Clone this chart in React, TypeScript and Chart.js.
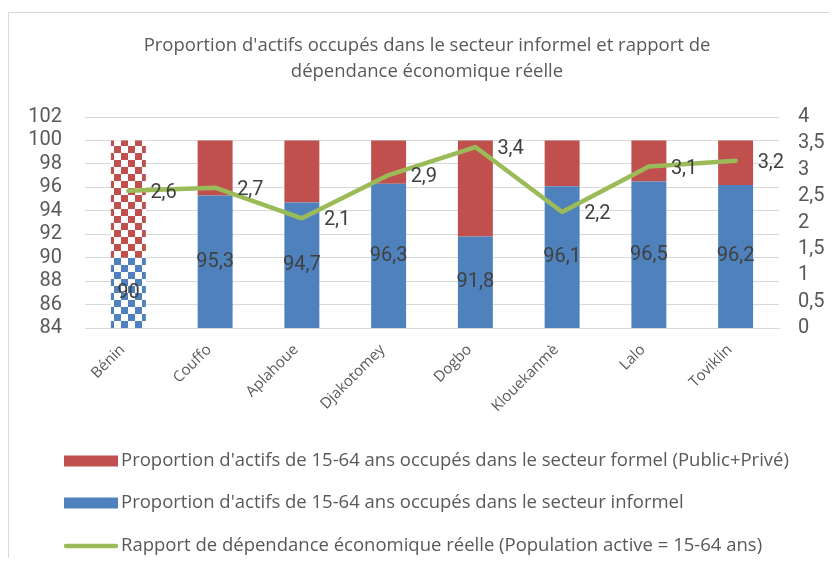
import React, { useEffect, useRef } from 'react';
import { Chart, registerables } from 'chart.js';

Chart.register(...registerables);

const categories = ['Bénin', 'Couffo', 'Aplahoue', 'Djakotomey', 'Dogbo', 'Klouekanmè', 'Lalo', 'Toviklin'];
const informel = [90, 95.3, 94.7, 96.3, 91.8, 96.1, 96.5, 96.2];
const formel = [10, 4.7, 5.3, 3.7, 8.2, 3.9, 3.5, 3.8];
const dependance = [2.6, 2.66, 2.08, 2.9, 3.43, 2.2, 3.06, 3.17];

const titleLines = [
  "Proportion d'actifs occupés dans le secteur informel et rapport de",
  'dépendance économique réelle',
];
const labelFormel = "Proportion d'actifs de 15-64 ans occupés dans le secteur formel (Public+Privé)";
const labelInformel = "Proportion d'actifs de 15-64 ans occupés dans le secteur informel";
const labelDependance = 'Rapport de dépendance économique réelle (Population active = 15-64 ans)';

const RED = '#C0504D';
const BLUE = '#4F81BD';
const GREEN = '#9BBB59';
const TEXT = '#595959';
const GRID = '#D9D9D9';
const TEXT_FONT = '"Open Sans"';

const fmt = (v: number) => String(v).replace('.', ',');
const fmt1 = (v: number) => String(Math.round(v * 10) / 10).replace('.', ',');

function makePattern(color: string): CanvasPattern | string {
  const c = document.createElement('canvas');
  c.width = 14;
  c.height = 14;
  const g = c.getContext('2d');
  if (!g) return color;
  g.fillStyle = '#ffffff';
  g.fillRect(0, 0, 14, 14);
  g.fillStyle = color;
  g.fillRect(0, 0, 7, 7);
  g.fillRect(7, 7, 7, 7);
  return g.createPattern(c, 'repeat') || color;
}

const decorPlugin = {
  id: 'decor',
  afterDatasetsDraw(chart: any) {
    const ctx = chart.ctx as CanvasRenderingContext2D;
    const xs = chart.scales.x;
    const ys = chart.scales.y;
    const y1 = chart.scales.y1;
    ctx.save();
    ctx.font = '20px Roboto';
    ctx.fillStyle = '#404040';
    ctx.textAlign = 'center';
    ctx.textBaseline = 'middle';
    informel.forEach((v, i) => {
      const x = xs.getPixelForValue(i);
      const top = ys.getPixelForValue(v);
      const base = ys.getPixelForValue(ys.min);
      ctx.fillText(fmt(v), x, (top + base) / 2);
    });
    ctx.textAlign = 'left';
    dependance.forEach((v, i) => {
      const x = xs.getPixelForValue(i);
      const y = y1.getPixelForValue(v);
      ctx.fillText(fmt1(v), x + 22, y + 2);
    });
    ctx.restore();
  },
  afterDraw(chart: any) {
    const ctx = chart.ctx as CanvasRenderingContext2D;
    ctx.save();
    ctx.font = `18.5px ${TEXT_FONT}`;
    ctx.fillStyle = TEXT;
    ctx.textAlign = 'center';
    ctx.textBaseline = 'middle';
    ctx.fillText(titleLines[0], 418, 33);
    ctx.fillText(titleLines[1], 418, 59);
    const items = [
      { label: labelFormel, color: RED, type: 'box', y: 448 },
      { label: labelInformel, color: BLUE, type: 'box', y: 490 },
      { label: labelDependance, color: GREEN, type: 'line', y: 533 },
    ];
    ctx.textAlign = 'left';
    items.forEach((it) => {
      if (it.type === 'box') {
        ctx.fillStyle = it.color;
        ctx.fillRect(55, it.y - 5.5, 54, 11);
      } else {
        ctx.strokeStyle = it.color;
        ctx.lineWidth = 4.5;
        ctx.lineCap = 'round';
        ctx.beginPath();
        ctx.moveTo(57, it.y);
        ctx.lineTo(107, it.y);
        ctx.stroke();
      }
      ctx.fillStyle = TEXT;
      ctx.fillText(it.label, 112, it.y);
    });
    ctx.restore();
  },
};

export default function App() {
  const ref = useRef<HTMLCanvasElement | null>(null);

  useEffect(() => {
    document.body.style.overflow = 'hidden';
    if (!ref.current) return;
    const redBg = categories.map((_, i) => (i === 0 ? makePattern(RED) : RED));
    const blueBg = categories.map((_, i) => (i === 0 ? makePattern(BLUE) : BLUE));
    const chart = new Chart(ref.current, {
      type: 'bar',
      data: {
        labels: categories,
        datasets: [
          {
            type: 'bar',
            label: labelInformel,
            data: informel,
            backgroundColor: blueBg as any,
            yAxisID: 'y',
            order: 1,
            barPercentage: 0.403,
            categoryPercentage: 1,
          },
          {
            type: 'bar',
            label: labelFormel,
            data: formel,
            backgroundColor: redBg as any,
            yAxisID: 'y',
            order: 1,
            barPercentage: 0.403,
            categoryPercentage: 1,
          },
          {
            type: 'line',
            label: labelDependance,
            data: dependance,
            borderColor: GREEN,
            backgroundColor: GREEN,
            borderWidth: 4.5,
            pointRadius: 0,
            tension: 0,
            borderCapStyle: 'round',
            borderJoinStyle: 'round',
            yAxisID: 'y1',
            order: 0,
          } as any,
        ],
      },
      options: {
        responsive: false,
        animation: false,
        layout: { padding: { top: 104, bottom: 130, left: 0, right: 0 } },
        plugins: {
          legend: { display: false },
          title: { display: false },
          tooltip: { enabled: false },
        },
        scales: {
          x: {
            stacked: true,
            grid: { display: false },
            border: { display: true, color: GRID, width: 1 },
            ticks: {
              color: TEXT,
              font: { family: TEXT_FONT, size: 15 },
              minRotation: 45,
              maxRotation: 45,
              autoSkip: false,
              padding: 5,
              labelOffset: -6,
            },
            afterFit: (s: any) => {
              s.height = 100;
            },
          },
          y: {
            stacked: true,
            position: 'left',
            min: 84,
            max: 102,
            ticks: {
              stepSize: 2,
              autoSkip: false,
              color: TEXT,
              font: { family: 'Roboto', size: 20, lineHeight: 1 },
              padding: 23,
            },
            grid: { color: GRID, lineWidth: 1, drawTicks: false },
            border: { display: false },
            afterFit: (s: any) => {
              s.width = 76;
            },
          },
          y1: {
            position: 'right',
            min: 0,
            max: 4,
            ticks: {
              stepSize: 0.5,
              autoSkip: false,
              color: TEXT,
              font: { family: 'Roboto', size: 20, lineHeight: 1 },
              padding: 19,
              callback: (v: any) => fmt(Number(v)),
            },
            grid: { display: false, drawTicks: false },
            border: { display: false },
            afterFit: (s: any) => {
              s.width = 50;
            },
          },
        },
      },
      plugins: [decorPlugin],
    });
    return () => chart.destroy();
  }, []);

  return (
    <div style={{ paddingTop: 4 }}>
      <div style={{ borderTop: '1px solid #D9D9D9', borderLeft: '1px solid #D9D9D9', width: 820 }}>
        <canvas ref={ref} width={820} height={545} style={{ display: 'block' }} />
      </div>
    </div>
  );
}
